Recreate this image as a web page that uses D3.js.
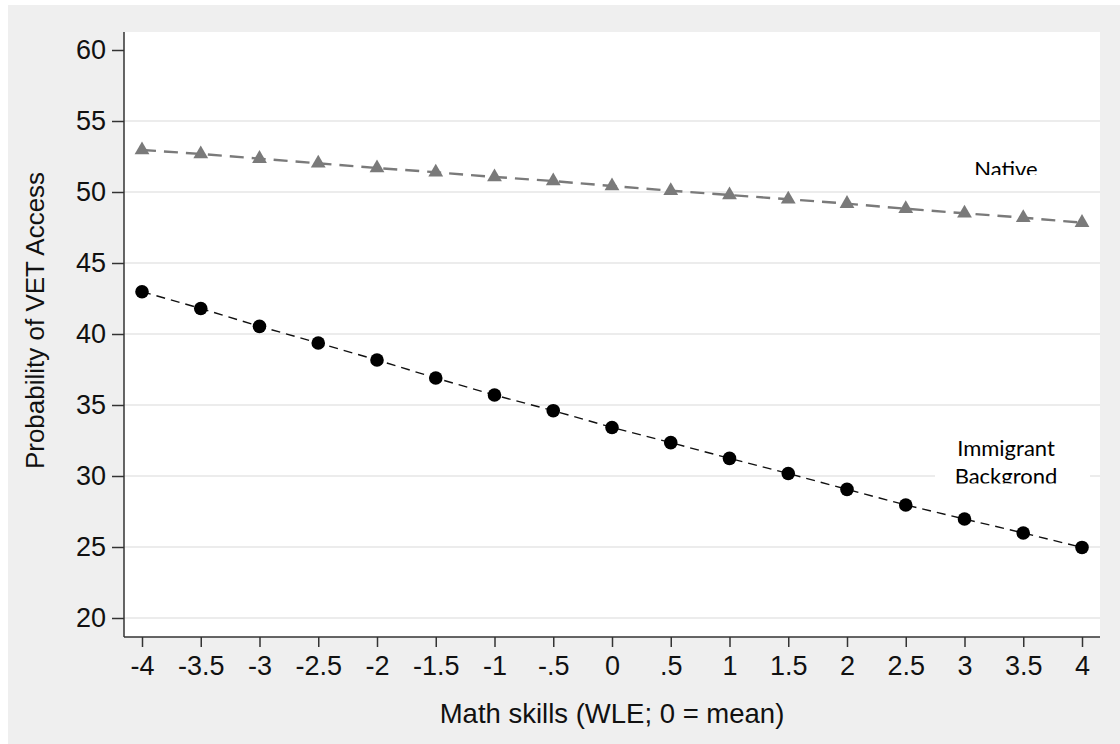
<!DOCTYPE html>
<html>
<head>
<meta charset="utf-8">
<script src="https://cdn.jsdelivr.net/npm/d3@7"></script>
<style>
  html, body { margin: 0; padding: 0; background: #ffffff; }
  svg { display: block; }
</style>
</head>
<body>
<svg id="chart" width="1120" height="744"></svg>
<script>
// ---- data ----
const mathSkills = [-4, -3.5, -3, -2.5, -2, -1.5, -1, -0.5, 0, 0.5, 1, 1.5, 2, 2.5, 3, 3.5, 4];
const xTickLabels = ["-4", "-3.5", "-3", "-2.5", "-2", "-1.5", "-1", "-.5", "0", ".5", "1", "1.5", "2", "2.5", "3", "3.5", "4"];
const nativeValues = [52.96, 52.68, 52.35, 52.02, 51.69, 51.39, 51.06, 50.77, 50.42, 50.09, 49.79, 49.49, 49.18, 48.82, 48.50, 48.19, 47.84];
const immigrantValues = [42.98, 41.80, 40.54, 39.37, 38.17, 36.90, 35.70, 34.60, 33.42, 32.35, 31.24, 30.18, 29.06, 27.96, 26.97, 25.99, 24.97];
const yTicks = [20, 25, 30, 35, 40, 45, 50, 55, 60];
const gridTicks = [20, 25, 30, 35, 40, 45, 50, 55];
const xTitle = "Math skills (WLE; 0 = mean)";
const yTitle = "Probability of VET Access";
const nativeLabel = ["Native"];
const immigrantLabel = ["Immigrant", "Backgrond"];

// ---- layout ----
const svg = d3.select("#chart");
const plot = { left: 124, right: 1100, top: 32, bottom: 637 };

const x = d3.scaleLinear().domain([-4, 4]).range([142, 1082]);
const y = d3.scaleLinear().domain([20, 60]).range([618, 50]);
const sansFont = "Liberation Sans, Arial, sans-serif";

// outer gray background
svg.append("rect").attr("x", 8).attr("y", 5).attr("width", 1112).attr("height", 739).attr("fill", "#efefef");
// plot region
svg.append("rect").attr("x", plot.left).attr("y", plot.top)
  .attr("width", plot.right - plot.left).attr("height", plot.bottom - plot.top).attr("fill", "#ffffff");

// gridlines
svg.append("g").selectAll("line").data(gridTicks).join("line")
  .attr("x1", plot.left).attr("x2", plot.right)
  .attr("y1", d => y(d)).attr("y2", d => y(d))
  .attr("stroke", "#ececec").attr("stroke-width", 2);

// y axis
const yAxis = d3.axisLeft(y).tickValues(yTicks).tickSize(12).tickPadding(6).tickFormat(d3.format("d"));
const gy = svg.append("g").attr("transform", `translate(${plot.left},0)`).call(yAxis);
gy.select(".domain").remove();
gy.selectAll(".tick line").attr("stroke", "#333").attr("stroke-width", 1.5);
gy.selectAll(".tick text").attr("font-family", sansFont)
  .attr("font-size", 27).attr("fill", "#111");
svg.append("line").attr("x1", plot.left).attr("x2", plot.left).attr("y1", plot.top).attr("y2", plot.bottom)
  .attr("stroke", "#333").attr("stroke-width", 1.5);

// x axis
const xAxis = d3.axisBottom(x).tickValues(mathSkills).tickSize(10).tickPadding(9)
  .tickFormat((d, i) => xTickLabels[i]);
const gx = svg.append("g").attr("transform", `translate(0,${plot.bottom})`).call(xAxis);
gx.select(".domain").remove();
gx.selectAll(".tick line").attr("stroke", "#333").attr("stroke-width", 1.5);
gx.selectAll(".tick text").attr("font-family", sansFont)
  .attr("font-size", 27).attr("fill", "#111");
svg.append("line").attr("x1", plot.left).attr("x2", plot.right).attr("y1", plot.bottom).attr("y2", plot.bottom)
  .attr("stroke", "#333").attr("stroke-width", 1.5);

// axis titles
svg.append("text").attr("x", (plot.left + plot.right) / 2).attr("y", 723)
  .attr("text-anchor", "middle").attr("font-family", sansFont)
  .attr("font-size", 27.5).attr("fill", "#111").text(xTitle);
svg.append("text").attr("transform", `translate(44,${(plot.top + plot.bottom) / 2 - 14}) rotate(-90)`)
  .attr("text-anchor", "middle").attr("font-family", sansFont)
  .attr("font-size", 26).attr("fill", "#111").text(yTitle);

// lines
const line = d3.line().x((d, i) => x(mathSkills[i])).y(d => y(d));
svg.append("path").datum(nativeValues).attr("d", line).attr("fill", "none")
  .attr("stroke", "#7a7a7a").attr("stroke-width", 2.4).attr("stroke-dasharray", "14,8");
svg.append("path").datum(immigrantValues).attr("d", line).attr("fill", "none")
  .attr("stroke", "#111").attr("stroke-width", 1.4).attr("stroke-dasharray", "9,6");

// markers
const tri = d3.symbol().type(d3.symbolTriangle).size(95);
svg.append("g").selectAll("path").data(nativeValues).join("path")
  .attr("d", tri)
  .attr("transform", (d, i) => `translate(${x(mathSkills[i])},${y(d)})`)
  .attr("fill", "#7a7a7a");
svg.append("g").selectAll("circle").data(immigrantValues).join("circle")
  .attr("cx", (d, i) => x(mathSkills[i])).attr("cy", d => y(d)).attr("r", 6.8)
  .attr("fill", "#000");

// label boxes (white text boxes, clipped at bottom)
const defs = svg.append("defs");
defs.append("clipPath").attr("id", "clipNative").append("rect")
  .attr("x", 950).attr("y", 150).attr("width", 115).attr("height", 25);
defs.append("clipPath").attr("id", "clipImm").append("rect")
  .attr("x", 935).attr("y", 430).attr("width", 155).attr("height", 53.5);

svg.append("rect").attr("x", 950).attr("y", 150).attr("width", 115).attr("height", 25).attr("fill", "#fff");
svg.append("rect").attr("x", 935).attr("y", 430).attr("width", 155).attr("height", 53.5).attr("fill", "#fff");

svg.append("g").attr("clip-path", "url(#clipNative)").selectAll("text").data(nativeLabel).join("text")
  .attr("x", 1006).attr("y", 177).attr("text-anchor", "middle")
  .attr("font-family", "Lato, 'Open Sans', sans-serif").attr("font-size", 22).attr("fill", "#000")
  .text(d => d);
svg.append("g").attr("clip-path", "url(#clipImm)").selectAll("text").data(immigrantLabel).join("text")
  .attr("x", 1006).attr("y", (d, i) => 456 + i * 28).attr("text-anchor", "middle")
  .attr("font-family", "Lato, 'Open Sans', sans-serif").attr("font-size", 22).attr("fill", "#000")
  .text(d => d);
</script>
</body>
</html>
